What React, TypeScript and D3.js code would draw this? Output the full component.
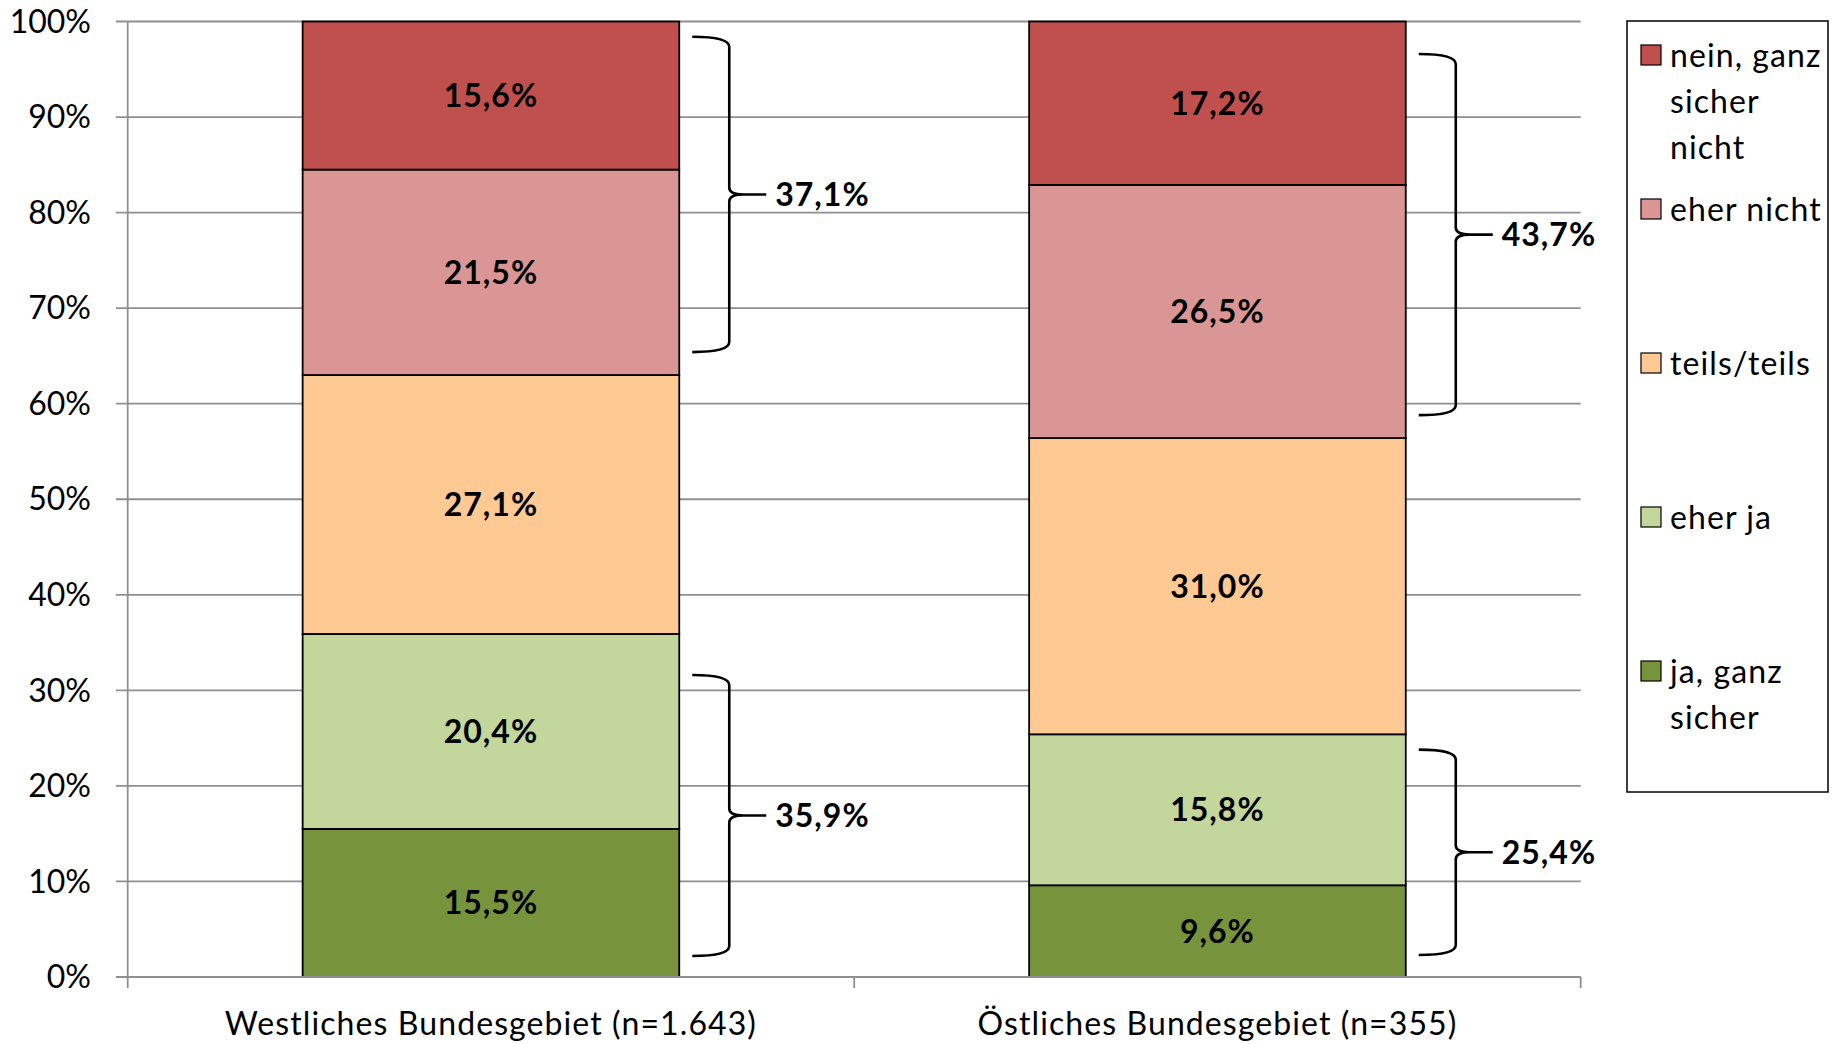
import React from 'react';
import * as d3 from 'd3';

// survey answers per region, bottom to top of the stack
const categories = ['Westliches Bundesgebiet (n=1.643)', 'Östliches Bundesgebiet (n=355)'];
const answers = ['ja, ganz sicher', 'eher ja', 'teils/teils', 'eher nicht', 'nein, ganz sicher nicht'];
const westValues = [15.5, 20.4, 27.1, 21.5, 15.6];
const eastValues = [9.6, 15.8, 31.0, 26.5, 17.2];
const colors = ['#77933C', '#C3D69B', '#FFC993', '#D99694', '#C0504D'];
const yTicks = [0, 10, 20, 30, 40, 50, 60, 70, 80, 90, 100];

// brace extents (percent on the y axis) as drawn in the chart
const braceLowBottom = [2.2, 2.3];
const braceLowTop = [31.6, 23.8];
const braceHighBottom = [65.4, 58.8];
const braceHighTop = [98.4, 96.6];

const legendLines = [['nein, ganz', 'sicher', 'nicht'], ['eher nicht'], ['teils/teils'], ['eher ja'], ['ja, ganz', 'sicher']];

const W = 1839;
const H = 1044;
const FONT = 'Lato, "Open Sans", sans-serif';

const fmt = (v: number) => d3.format('.1f')(v).replace('.', ',') + '%';

const bracePath = (x: number, yTop: number, yBot: number) => {
  const x0 = x + 13;
  const x1 = x + 50;
  const x2 = x + 87;
  const yM = (yTop + yBot) / 2;
  const r = 10;
  return [
    `M${x0},${yTop}`,
    `Q${x1},${yTop} ${x1},${yTop + r}`,
    `L${x1},${yM - 7}`,
    `Q${x1},${yM} ${x1 + 14},${yM}`,
    `L${x2},${yM}`,
    `M${x1 + 14},${yM}`,
    `Q${x1},${yM} ${x1},${yM + 7}`,
    `L${x1},${yBot - r}`,
    `Q${x1},${yBot} ${x0},${yBot}`,
  ].join(' ');
};

export default function App() {
  const y = d3.scaleLinear().domain([0, 100]).range([977, 21.5]).clamp(true);
  const x = d3.scaleBand<string>()
    .domain(categories)
    .range([127.7, 1580.7])
    .paddingInner(0.4816)
    .paddingOuter(0.2408);

  const series = [westValues, eastValues];
  const stacks = series.map(vals => {
    let acc = 0;
    return vals.map(v => {
      const s = { lo: acc, hi: acc + v, v };
      acc += v;
      return s;
    });
  });

  const xRange = x.range();
  const lowSums = series.map(vals => vals[0] + vals[1]);
  const highSums = series.map(vals => vals[3] + vals[4]);

  return (
    <svg width={W} height={H} style={{ position: 'absolute', left: 0, top: 0, display: 'block', background: '#fff' }}
      fontFamily={FONT}>
      {/* gridlines */}
      {yTicks.map(t => (
        <line key={t} x1={116} x2={xRange[1]} y1={y(t)} y2={y(t)} stroke="#8f8f8f" strokeWidth={1.8} />
      ))}
      {/* y axis */}
      <line x1={xRange[0]} x2={xRange[0]} y1={y(100)} y2={y(0)} stroke="#8f8f8f" strokeWidth={1.8} />
      {yTicks.map(t => (
        <text key={t} x={91} y={y(t)} dy="0.35em" textAnchor="end" fontSize={32} fill="#000">{`${t}%`}</text>
      ))}
      {/* x axis ticks */}
      {[xRange[0], xRange[0] + x.step(), xRange[1]].map((tx, i) => (
        <line key={i} x1={tx} x2={tx} y1={y(0)} y2={y(0) + 11} stroke="#8f8f8f" strokeWidth={1.8} />
      ))}
      {categories.map(c => (
        <text key={c} x={(x(c) as number) + x.bandwidth() / 2} y={1035} textAnchor="middle" fontSize={32}
          letterSpacing={1.1} fill="#000">{c}</text>
      ))}

      {/* bars */}
      {categories.map((c, ci) => (
        <g key={c}>
          {stacks[ci].map((s, si) => (
            <rect key={si} x={x(c)} width={x.bandwidth()} y={y(s.hi)} height={y(s.lo) - y(s.hi)}
              fill={colors[si]} stroke="#000" strokeWidth={1.8} />
          ))}
          {stacks[ci].map((s, si) => (
            <text key={'t' + si} x={(x(c) as number) + x.bandwidth() / 2} y={(y(s.hi) + y(s.lo)) / 2} dy="0.36em"
              textAnchor="middle" fontSize={32} letterSpacing={1} fontWeight="bold" fill="#000">{fmt(s.v)}</text>
          ))}
        </g>
      ))}
      {/* x axis baseline */}
      <line x1={xRange[0]} x2={xRange[1]} y1={y(0)} y2={y(0)} stroke="#8f8f8f" strokeWidth={1.8} />

      {/* braces */}
      {categories.map((c, ci) => {
        const bx = (x(c) as number) + x.bandwidth();
        const lowT = y(braceLowTop[ci]);
        const lowB = y(braceLowBottom[ci]);
        const highT = y(braceHighTop[ci]);
        const highB = y(braceHighBottom[ci]);
        return (
          <g key={'b' + c}>
            <path d={bracePath(bx, highT, highB)} fill="none" stroke="#000" strokeWidth={2.6} />
            <path d={bracePath(bx, lowT, lowB)} fill="none" stroke="#000" strokeWidth={2.6} />
            <text x={bx + 96} y={(highT + highB) / 2} dy="0.36em" fontSize={32} letterSpacing={1} fontWeight="bold">{fmt(highSums[ci])}</text>
            <text x={bx + 96} y={(lowT + lowB) / 2} dy="0.36em" fontSize={32} letterSpacing={1} fontWeight="bold">{fmt(lowSums[ci])}</text>
          </g>
        );
      })}

      {/* legend */}
      <rect x={1627} y={21} width={201} height={771} fill="#fff" stroke="#000" strokeWidth={1.5} />
      {legendLines.map((lines, i) => {
        const cy = 55 + i * 154;
        return (
          <g key={i}>
            <rect x={1641} y={cy - 10} width={20} height={20} fill={colors[4 - i]} stroke="#000" strokeWidth={1.2} />
            {lines.map((ln, li) => (
              <text key={li} x={1670} y={cy + li * 46} dy="0.36em" fontSize={32} letterSpacing={1.1} fill="#000">{ln}</text>
            ))}
          </g>
        );
      })}
      <title>{answers.join(', ')}</title>
    </svg>
  );
}
